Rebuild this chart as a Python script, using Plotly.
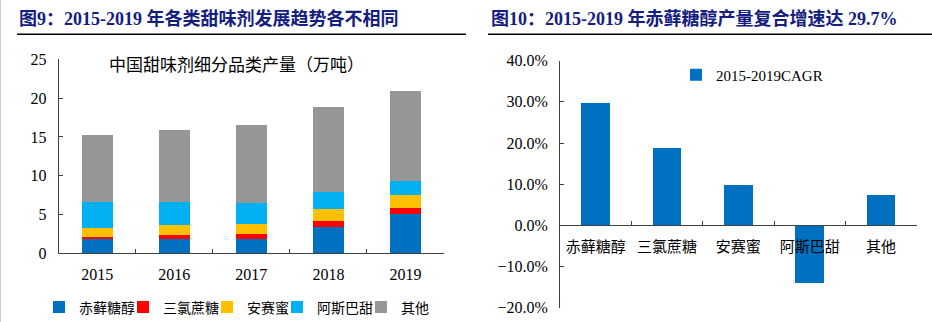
import plotly.graph_objects as go

W, H = 932, 322

# Left panel: sweetener output by category (10k tonnes), stacked
years = ["2015", "2016", "2017", "2018", "2019"]
erythritol = [1.80, 1.84, 1.84, 3.43, 5.10]
sucralose = [0.32, 0.52, 0.65, 0.69, 0.78]
acesulfame = [1.14, 1.24, 1.25, 1.55, 1.63]
aspartame = [3.30, 2.97, 2.74, 2.27, 1.77]
others = [8.70, 9.30, 10.00, 10.90, 11.60]

stack_names = ["赤藓糖醇", "三氯蔗糖", "安赛蜜", "阿斯巴甜", "其他"]
stack_colors = ["#0070C0", "#FF0000", "#FFC000", "#00B0F0", "#969696"]
stack_values = [erythritol, sucralose, acesulfame, aspartame, others]
# text area reserved for each legend entry (px)
legend_widths = [39, 39, 25, 39, 0]

# Right panel: 2015-2019 CAGR (%)
cagr_categories = ["赤藓糖醇", "三氯蔗糖", "安赛蜜", "阿斯巴甜", "其他"]
cagr_values = [29.7, 18.9, 9.8, -14.1, 7.4]

SERIF = "Liberation Serif, Times New Roman, Noto Sans CJK SC, serif"
AXIS_COLOR = "#404040"
TITLE_COLOR = "#14207F"


def px_x(p):
    return p / W


def px_y(p):
    return 1 - p / H


fig = go.Figure()

for name, color, vals, lw in zip(stack_names, stack_colors, stack_values, legend_widths):
    fig.add_trace(go.Bar(
        x=years, y=vals, name=name,
        marker=dict(color=color, line=dict(width=0)),
        xaxis="x", yaxis="y", legend="legend",
        legendwidth=lw if lw else None,
    ))

fig.add_trace(go.Bar(
    x=cagr_categories, y=cagr_values, name="2015-2019CAGR",
    marker=dict(color="#0070C0", line=dict(width=0)),
    xaxis="x2", yaxis="y2", legend="legend2",
))

axis_common = dict(
    showline=True, linecolor=AXIS_COLOR, linewidth=1,
    ticks="inside", ticklen=4, tickcolor=AXIS_COLOR,
    showgrid=False, zeroline=False, automargin=False,
    tickfont=dict(family=SERIF, size=16, color="#000000"),
)

fig.update_layout(
    width=W, height=H,
    margin=dict(l=0, r=0, t=0, b=0, autoexpand=False),
    paper_bgcolor="white", plot_bgcolor="white",
    barmode="stack", bargap=0.6,
    font=dict(family=SERIF, color="#000000"),
    xaxis=dict(
        domain=[px_x(58.7), px_x(444)], anchor="y",
        type="category", tickson="boundaries",
        ticklabelstandoff=6,
        **axis_common,
    ),
    yaxis=dict(
        domain=[px_y(253.3), px_y(59.3)], anchor="x",
        range=[0, 25], dtick=5, ticklabelstandoff=8,
        **axis_common,
    ),
    xaxis2=dict(
        domain=[px_x(560), px_x(916.7)], anchor="free",
        position=px_y(225), type="category", tickson="boundaries",
        ticklabelstandoff=8,
        **{**axis_common, "tickfont": dict(family=SERIF, size=15, color="#000000")},
    ),
    yaxis2=dict(
        domain=[px_y(307.7), px_y(60.7)], anchor="x2",
        range=[-20, 40], dtick=10, tickformat=".1f", ticksuffix="%",
        ticklabelstandoff=8,
        **axis_common,
    ),
    legend=dict(
        orientation="h", x=px_x(39), y=px_y(307.5), yanchor="middle",
        xanchor="left", itemwidth=30, traceorder="normal",
        font=dict(family=SERIF, size=14, color="#000000"),
        bgcolor="rgba(0,0,0,0)",
    ),
    legend2=dict(
        orientation="h", x=px_x(676), y=px_y(75), yanchor="middle",
        xanchor="left", itemwidth=30,
        font=dict(family=SERIF, size=15, color="#000000"),
        bgcolor="rgba(0,0,0,0)",
    ),
    showlegend=True,
)

# Panel titles
fig.add_annotation(
    text="<b>图9：2015-2019 年各类甜味剂发展趋势各不相同</b>",
    x=px_x(17), y=px_y(18.5), xref="paper", yref="paper",
    xanchor="left", yanchor="middle", showarrow=False,
    font=dict(family=SERIF, size=18, color=TITLE_COLOR),
)
fig.add_annotation(
    text="<b>图10：2015-2019 年赤藓糖醇产量复合增速达 29.7%</b>",
    x=px_x(489), y=px_y(18.5), xref="paper", yref="paper",
    xanchor="left", yanchor="middle", showarrow=False,
    font=dict(family=SERIF, size=18, color=TITLE_COLOR),
)
# In-chart caption of the left panel
fig.add_annotation(
    text="中国甜味剂细分品类产量（万吨）",
    x=px_x(107), y=px_y(65), xref="paper", yref="paper",
    xanchor="left", yanchor="middle", showarrow=False,
    font=dict(family=SERIF, size=17, color="#000000"),
)

# Rules under the titles and the thin left border
fig.add_shape(type="line", xref="paper", yref="paper",
              x0=px_x(17), x1=px_x(466), y0=px_y(34.3), y1=px_y(34.3),
              line=dict(color="#000000", width=1.5))
fig.add_shape(type="line", xref="paper", yref="paper",
              x0=px_x(488), x1=1, y0=px_y(34.3), y1=px_y(34.3),
              line=dict(color="#000000", width=1.5))
fig.add_shape(type="line", xref="paper", yref="paper",
              x0=px_x(0.5), x1=px_x(0.5), y0=0, y1=1,
              line=dict(color="#D0D0D0", width=1))

fig.write_html("out.html")
